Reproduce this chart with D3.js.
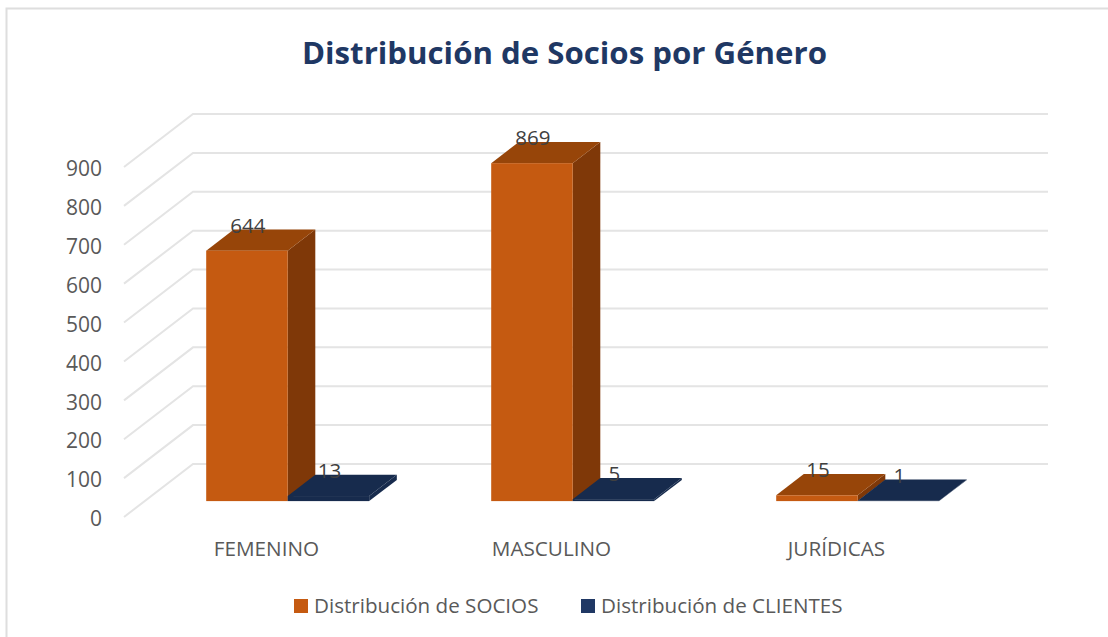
<!DOCTYPE html>
<html><head><meta charset="utf-8">
<script src="https://cdn.jsdelivr.net/npm/d3@7/dist/d3.min.js"></script>
<style>html,body{margin:0;padding:0;background:#fff;overflow:hidden}svg{display:block}text{font-family:"Open Sans",sans-serif}</style>
</head><body><svg id="c" width="1108" height="637"></svg>
<script>
const categories = ["FEMENINO","MASCULINO","JURÍDICAS"];
const seriesNames = ["Distribución de SOCIOS","Distribución de CLIENTES"];
const socios = [644,869,15];
const clientes = [13,5,1];
const yTicks = [0,100,200,300,400,500,600,700,800,900];
const titleText = "Distribución de Socios por Género";
const colors = [{front:"#c55a11",top:"#974509",side:"#7f3808"},{front:"#203864",top:"#172b4d",side:"#172b4d"}];

const svg = d3.select("#c");
svg.append("path").attr("d","M6.5,660V8.5H1120").attr("fill","none").attr("stroke","#dedede").attr("stroke-width",2);

const depth = {dx:69,dy:-53};
const y = d3.scaleLinear().domain([0,900]).range([517,167]);
const x0 = d3.scaleBand().domain(categories).range([124,979]);
const x1 = d3.scaleBand().domain([0,1]).range([61.5,224.5]);
const barDepth = {start:0.3,end:0.7};

const grid = svg.append("g");
yTicks.forEach(t=>{
  const p = d3.path();
  p.moveTo(124,y(t)); p.lineTo(124+depth.dx,y(t)+depth.dy); p.lineTo(979+depth.dx,y(t)+depth.dy);
  grid.append("path").attr("d",p.toString()).attr("fill","none").attr("stroke","#e4e4e4").attr("stroke-width",2);
});
const axis = d3.axisLeft(y).tickValues(yTicks).tickSize(0).tickPadding(0);
const ax = svg.append("g").attr("transform","translate(102,2)").call(axis);
ax.select(".domain").remove();
ax.selectAll("text").attr("font-size",21).attr("fill","#595959").style("font-family",'"Open Sans",sans-serif');

const bars = svg.append("g");
function drawBar(cat,s,v){
  const c = colors[s];
  const xa = x0(cat)+x1(s)+depth.dx*barDepth.start, w = x1.bandwidth();
  const yb = y(0)+depth.dy*barDepth.start, h = y(0)-y(v);
  const ddx = depth.dx*(barDepth.end-barDepth.start), ddy = depth.dy*(barDepth.end-barDepth.start);
  const pts = a=>a.map(q=>q.join(",")).join(" ");
  const g = bars.append("g");
  g.append("polygon").attr("points",pts([[xa+w,yb],[xa+w+ddx,yb+ddy],[xa+w+ddx,yb+ddy-h],[xa+w,yb-h]])).attr("fill",c.side);
  g.append("polygon").attr("points",pts([[xa,yb-h],[xa+w,yb-h],[xa+w+ddx,yb+ddy-h],[xa+ddx,yb+ddy-h]])).attr("fill",c.top);
  g.append("rect").attr("x",xa).attr("y",yb-h).attr("width",w).attr("height",h).attr("fill",s?c.top:c.front);
}
const labels = svg.append("g");
categories.forEach((cat,i)=>{ drawBar(cat,0,socios[i]); });
categories.forEach((cat,i)=>{ drawBar(cat,1,clientes[i]); });
categories.forEach((cat,i)=>{
  [socios[i],clientes[i]].forEach((v,s)=>{
    const xa = x0(cat)+x1(s)+depth.dx*barDepth.start;
    const yb = y(0)+depth.dy*barDepth.start;
    labels.append("text").attr("x",xa+x1.bandwidth()/2+1).attr("y",yb-(y(0)-y(v))-18).attr("text-anchor","middle")
      .attr("font-size",20.5).attr("fill","#404040").text(v);
  });
  svg.append("text").attr("x",x0(cat)+x0.bandwidth()/2).attr("y",556).attr("text-anchor","middle")
    .attr("font-size",20.7).attr("fill","#595959").text(cat);
});
svg.append("text").attr("x",564.5).attr("y",64).attr("text-anchor","middle").attr("font-size",31.2).attr("font-weight",700).attr("fill","#1f3864").text(titleText);
const legX=[294,581];
seriesNames.forEach((n,i)=>{
  svg.append("rect").attr("x",legX[i]).attr("y",599).attr("width",14).attr("height",14).attr("fill",colors[i].front);
  svg.append("text").attr("x",legX[i]+20).attr("y",612.5).attr("font-size",20.6).attr("fill","#595959").text(n);
});
</script></body></html>
